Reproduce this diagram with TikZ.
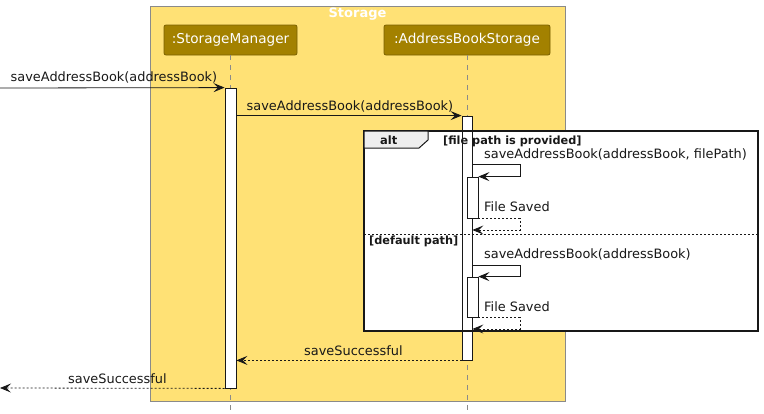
\documentclass[tikz,border=0pt]{standalone}
\usepackage{fontspec}
\setmainfont{DejaVu Sans}
\usetikzlibrary{arrows.meta,calc}
\definecolor{grpfill}{HTML}{FFE175}
\definecolor{grpline}{HTML}{8A8A8A}
\definecolor{partfill}{HTML}{A38100}
\definecolor{partline}{HTML}{7A6000}
\definecolor{ink}{HTML}{181818}
\definecolor{tabfill}{HTML}{EEEEEE}
\tikzset{
  msgfont/.style={font=\fontsize{12.9}{14}\selectfont, text=ink, inner sep=0pt, anchor=base west},
  guardfont/.style={font=\fontsize{11.3}{13}\selectfont\bfseries, text=ink, inner sep=0pt, anchor=base west},
  partbox/.style={draw=partline, fill=partfill, rounded corners=2pt, minimum height=30pt, inner sep=0pt,
    font=\fontsize{13.6}{15}\selectfont, text=white, line width=0.8pt},
  actbar/.style={draw=ink, fill=white, inner sep=0pt, line width=0.8pt},
  life/.style={draw=grpline, line width=0.6pt, dash pattern=on 5pt off 5pt},
  msg/.style={draw=ink, line width=0.8pt, -{Stealth[length=11pt,width=9pt,inset=4.5pt]}},
  ret/.style={msg, dash pattern=on 2pt off 2pt},
}
\begin{document}
\begin{tikzpicture}[x=1pt,y=-1pt]
\useasboundingbox (0,0) rectangle (764,413);
% group box
\draw[fill=grpfill, draw=grpline, line width=0.8pt] (150,6) rectangle (565,401);
\node[font=\fontsize{13}{15}\selectfont\bfseries, text=white, inner sep=0pt, anchor=base] (title) at (357.5,17.5) {Storage};
% participants
\node[partbox, minimum width=133pt] (sm) at (230.5,40) {:StorageManager};
\node[partbox, minimum width=166pt] (abs) at (467,40) {:AddressBookStorage};
% alt frame background
\fill[white] (364,131) rectangle (758,331);
% lifelines
\coordinate (bot) at (0,413);
\draw[life] (sm.south) -- (sm.south |- bot);
\draw[life] (abs.south) -- (abs.south |- bot);
% activation bars
\node[actbar, minimum width=11pt, minimum height=300pt] (smact) at (230.5,238) {};
\node[actbar, minimum width=10pt, minimum height=244pt] (absact) at (467,238) {};
\node[actbar, minimum width=11pt, minimum height=41pt] (n1) at (472.5,197.5) {};
\node[actbar, minimum width=11pt, minimum height=40pt] (n2) at (472.5,297) {};
% alt frame
\draw[ink, line width=1.5pt] (364,131) rectangle (758,331);
\draw[ink, line width=1pt, fill=tabfill] (364,131) -- (428,131) -- (428,140) -- (419,148) -- (364,148) -- cycle;
\node[guardfont, font=\fontsize{11.5}{13}\selectfont\bfseries] (altlbl) at (380,144) {alt};
\node[guardfont] (g1) at (443,144) {[file path is provided]};
\draw[ink, line width=0.8pt, dash pattern=on 2pt off 2pt] (364,234.5) -- (758,234.5);
\node[guardfont] (g2) at (369,244) {[default path]};
% incoming message
\coordinate (in) at (0,88);
\draw[msg] (in) -- (smact.north west);
\node[msgfont] (l1) at (10.5,81) {saveAddressBook(addressBook)};
% SM -> ABS
\draw[msg] (smact.east |- absact.north) -- (absact.north west);
\node[msgfont] (l2) at (246.5,110) {saveAddressBook(addressBook)};
% self message 1
\coordinate (s1) at (520,164);
\draw[msg] (absact.east |- s1) -- (s1) -- (s1 |- n1.north) -- (n1.north east);
\node[msgfont] (l3) at (484,158) {saveAddressBook(addressBook, filePath)};
\coordinate (r1) at (520,230);
\draw[ret] (n1.south east) -- (n1.south east -| r1) -- (r1) -- (absact.east |- r1);
\node[msgfont] (l4) at (484,211.5) {File Saved};
% self message 2
\coordinate (s2) at (520,265);
\draw[msg] (absact.east |- s2) -- (s2) -- (s2 |- n2.north) -- (n2.north east);
\node[msgfont] (l5) at (484,258.5) {saveAddressBook(addressBook)};
\coordinate (r2) at (520,329);
\draw[ret] (n2.south east) -- (n2.south east -| r2) -- (r2) -- (absact.east |- r2);
\node[msgfont] (l6) at (484,311) {File Saved};
% returns
\draw[ret] (absact.south west) -- (smact.east |- absact.south);
\node[msgfont] (l7) at (304,355) {saveSuccessful};
\coordinate (out) at (0,388);
\draw[ret] (smact.south west) -- (out);
\node[msgfont] (l8) at (68,383.5) {saveSuccessful};
\end{tikzpicture}
\end{document}
